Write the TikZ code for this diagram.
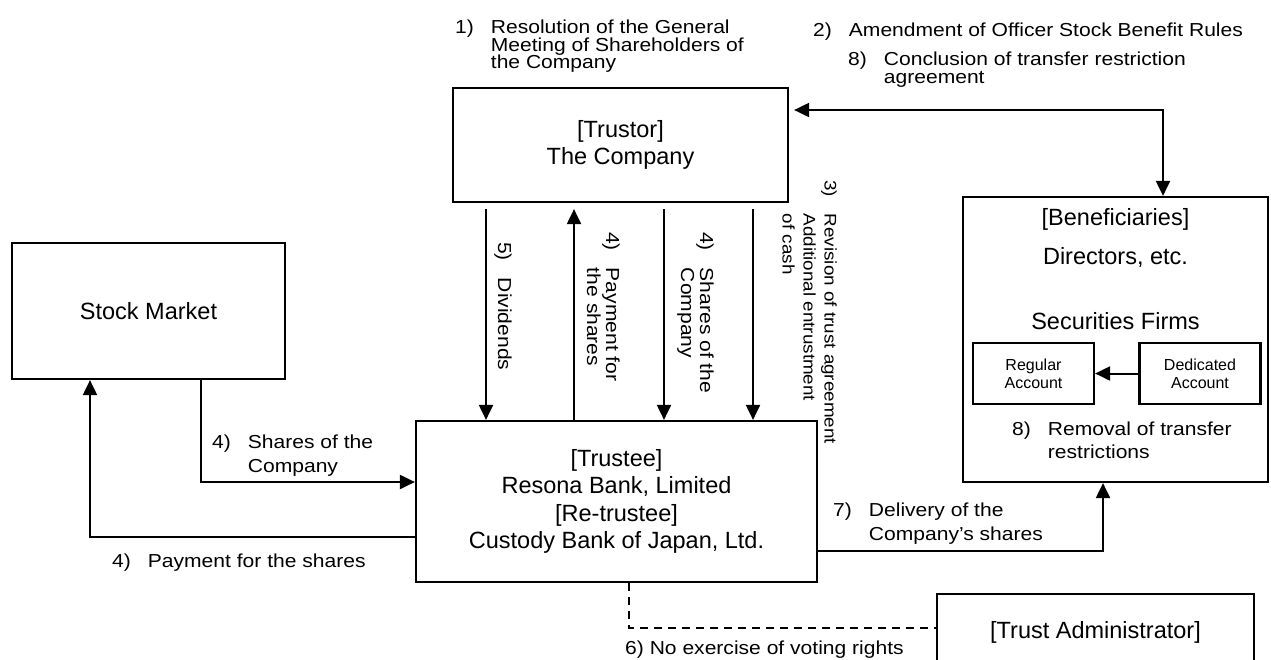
\documentclass[tikz,border=0pt]{standalone}
\usepackage{fontspec}
\setmainfont{Liberation Sans}
\newfontfamily\lblfamily{Liberation Sans}[Ligatures=TeX,FakeStretch=1.12]
\usetikzlibrary{arrows.meta}

\newcommand{\numgap}{\hspace{17pt}}
\newcommand{\indnum}[1]{\phantom{#1}\numgap}
\newcommand{\lblsize}[2][18.8]{\lblfamily\fontsize{#1}{#2}\selectfont\lineskiplimit=-100pt\relax}

\begin{document}
\begin{tikzpicture}[
  x=1pt,y=-1pt,
  box/.style={draw,line width=2.2pt,inner sep=0pt,align=center,font=\fontsize{23.5}{27.5}\selectfont},
  acct/.style={box,minimum width=121pt,minimum height=61pt,font=\fontsize{16}{18}\selectfont},
  lbl/.style={inner sep=0pt,anchor=north west,align=left},
  vlbl/.style={lbl,rotate=-90},
  arr/.style={-{Triangle[length=15pt,width=14pt]},line width=2pt},
  biarr/.style={{Triangle[length=15pt,width=14pt]}-{Triangle[length=15pt,width=14pt]},line width=2pt},
  dashline/.style={line width=2pt,dash pattern=on 8pt off 6pt}
]
\useasboundingbox (0,0) rectangle (1271,659);

% parties
\node[box,minimum width=335pt,minimum height=114pt] (trustor) at (620.5,145) {[Trustor]\\The Company};
\node[box,minimum width=401pt,minimum height=161pt] (trustee) at (616.5,501.5)
  {[Trustee]\\Resona Bank, Limited\\{[}Re-trustee{]}\\Custody Bank of Japan, Ltd.};
\node[box,minimum width=273pt,minimum height=136pt] (stock) at (148.5,311) {Stock Market};
\node[box,minimum width=317pt,minimum height=76pt] (admin) at (1095.5,632) {[Trust Administrator]};

% beneficiaries and their accounts
\node[box,minimum width=305pt,minimum height=285pt] (ben) at (1115.5,339.5) {};
\node[align=center,inner sep=0pt,font=\fontsize{23.5}{39}\selectfont] (bentitle) at (1115.5,237.5) {[Beneficiaries]\\Directors, etc.};
\node[inner sep=0pt,font=\fontsize{23.5}{27.5}\selectfont] (firms) at (1115.5,321) {Securities Firms};
\node[acct] (reg) at (1033.5,373.5) {Regular\\Account};
\node[acct] (ded) at (1200,373.5) {Dedicated\\Account};
\draw[arr] (ded) -- (reg);
\node[lbl,font=\lblsize{23}] (lblrem) at (1012,421.5) {8)\numgap Removal of transfer\\\indnum{8)}restrictions};

% labels above the trustor
\node[lbl,font=\lblsize{17.5}] (lblres) at (455,20) {1)\numgap Resolution of the General\\\indnum{1)}Meeting of Shareholders of\\\indnum{1)}the Company};
\node[lbl,font=\lblsize{17.5}] (lblamd) at (813,22.5) {2)\numgap Amendment of Officer Stock Benefit Rules};
\node[lbl,font=\lblsize{17.5}] (lblcon) at (848,52) {8)\numgap Conclusion of transfer restriction\\\indnum{8)}agreement};

% trustor <-> beneficiaries
\coordinate (agr) at (1163,110);
\draw[biarr,shorten >=5pt] (ben.north -| agr) -- (agr) -- (agr -| trustor.east);

% trustor <-> trustee
\coordinate (divx) at (486,0);
\coordinate (payx) at (574,0);
\coordinate (shrx) at (664,0);
\coordinate (revx) at (753,0);
\draw[arr,shorten <=6pt] (trustor.south -| divx) -- (trustee.north -| divx);
\draw[arr,shorten >=6pt] (trustee.north -| payx) -- (trustor.south -| payx);
\draw[arr,shorten <=6pt] (trustor.south -| shrx) -- (trustee.north -| shrx);
\draw[arr,shorten <=6pt] (trustor.south -| revx) -- (trustee.north -| revx);
\node[vlbl,font=\lblsize{19}] (lbldiv) at (512,242) {5)\numgap Dividends};
\node[vlbl,font=\lblsize{19}] (lblpay) at (620,232) {4)\numgap Payment for\\\indnum{4)}the shares};
\node[vlbl,font=\lblsize{19}] (lblshr) at (714,232) {4)\numgap Shares of the\\\indnum{4)}Company};
\node[vlbl,font={\lblsize[16.8]{21}}] (lblrev) at (837,180) {3)\numgap Revision of trust agreement\\\indnum{3)}Additional entrustment\\\indnum{3)}of cash};

% stock market <-> trustee
\coordinate (buy) at (201,482);
\coordinate (pay) at (90,537);
\draw[arr] (stock.south -| buy) -- (buy) -- (buy -| trustee.west);
\draw[arr] (pay -| trustee.west) -- (pay) -- (pay |- stock.south);
\node[lbl,font=\lblsize{24}] (lblbuy) at (212,434.5) {4)\numgap Shares of the\\\indnum{4)}Company};
\node[lbl,font=\lblsize{24}] (lblpay2) at (112,553.5) {4)\numgap Payment for the shares};

% trustee -> beneficiaries
\coordinate (dlv) at (1103,551);
\draw[arr] (dlv -| trustee.east) -- (dlv) -- (dlv |- ben.south);
\node[lbl,font=\lblsize{24}] (lbldlv) at (833,502.5) {7)\numgap Delivery of the\\\indnum{7)}Company's shares};

% trust administrator
\coordinate (vote) at (629,628);
\draw[dashline] (trustee.south -| vote) -- (vote) -- (vote -| admin.west);
\node[lbl,font=\lblsize{24}] (lblvote) at (625,641) {6) No exercise of voting rights};
\end{tikzpicture}
\end{document}
